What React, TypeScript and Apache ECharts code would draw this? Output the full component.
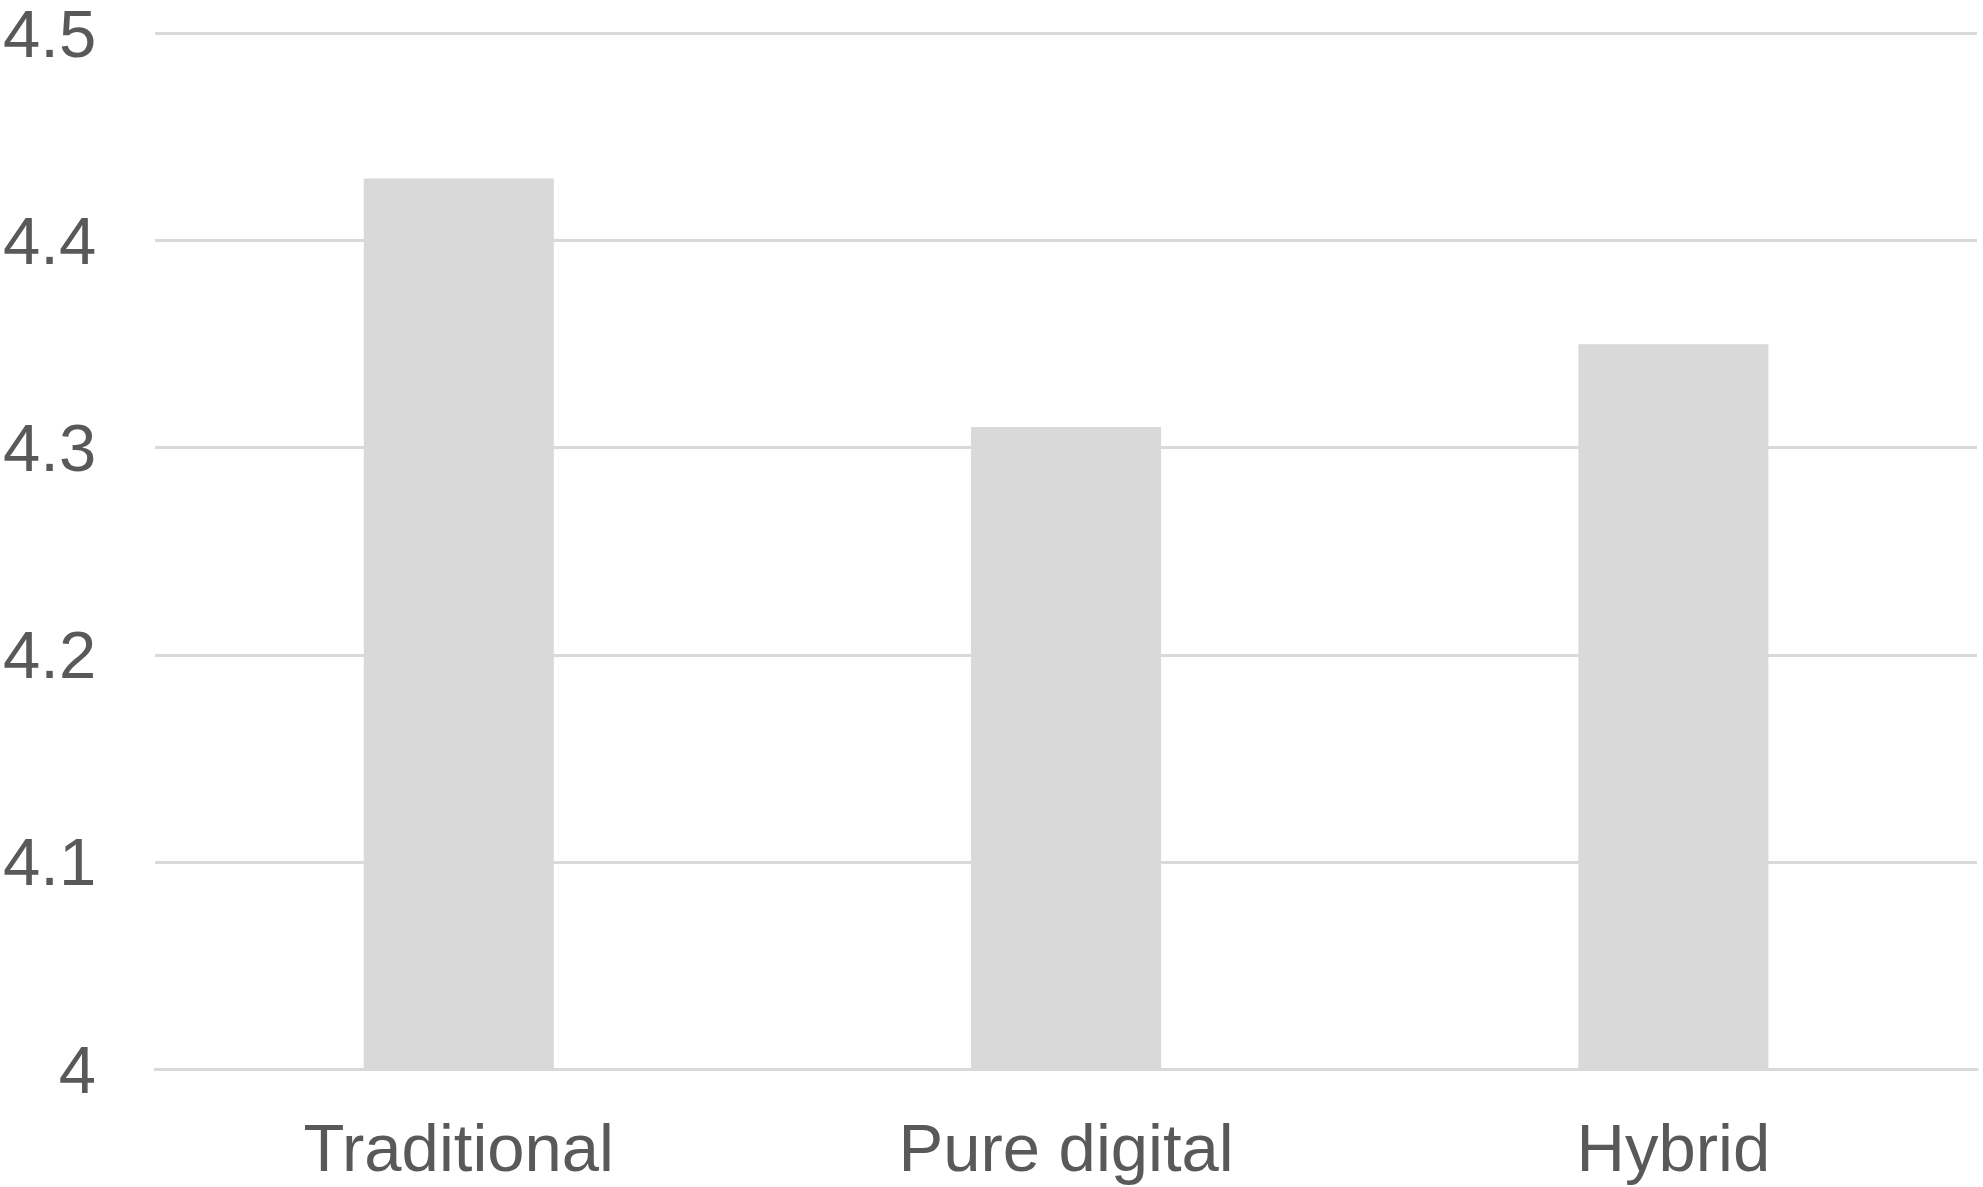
import React, { useEffect, useRef } from "react";
import * as echarts from "echarts";

const categories = ["Traditional", "Pure digital", "Hybrid"];
const values = [4.43, 4.31, 4.35];
const yMin = 4;
const yMax = 4.5;
const yInterval = 0.1;

export default function App() {
  const ref = useRef<HTMLDivElement>(null);
  useEffect(() => {
    if (!ref.current) return;
    const chart = echarts.init(ref.current, null, { renderer: "svg" });
    const font = "'Liberation Sans', Arial, sans-serif";
    chart.setOption({
      animation: false,
      backgroundColor: "#ffffff",
      grid: { left: 154, right: 6, top: 29, bottom: 118, containLabel: false },
      xAxis: {
        type: "category",
        data: categories,
        axisLine: { show: true, lineStyle: { color: "#d9d9d9", width: 3 } },
        axisTick: { show: false },
        axisLabel: { color: "#595959", fontSize: 67, fontFamily: font, margin: 45 },
      },
      yAxis: {
        type: "value",
        min: yMin,
        max: yMax,
        interval: yInterval,
        axisLine: { show: false },
        axisTick: { show: false },
        axisLabel: { color: "#595959", fontSize: 67, fontFamily: font, margin: 59 },
        splitLine: { show: true, lineStyle: { color: "#d9d9d9", width: 3 } },
      },
      series: [
        {
          type: "bar",
          data: values,
          barWidth: "31.3%",
          itemStyle: { color: "#d9d9d9" },
        },
      ],
    });
    return () => chart.dispose();
  }, []);
  return (
    <div
      ref={ref}
      style={{ position: "fixed", left: 0, top: 0, width: 1983, height: 1187, background: "#fff" }}
    />
  );
}
